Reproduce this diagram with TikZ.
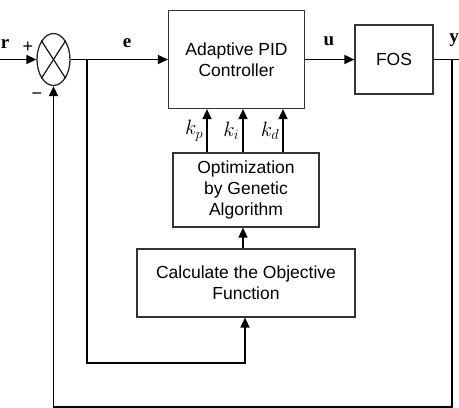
\documentclass[tikz,border=0pt]{standalone}
\usepackage{amsmath}
\usepackage{fontspec}
\setmainfont{Liberation Sans}
\newfontfamily\sigfont{Liberation Serif}
\usetikzlibrary{arrows.meta,positioning,shapes.geometric}

\begin{document}
\begin{tikzpicture}[
  x=1pt,
  y=-1pt,
  block/.style={draw=black!80, line width=1.2pt, align=center, inner sep=2pt,
    font=\fontsize{17.5}{21}\selectfont},
  sumnode/.style={ellipse, draw=black!85, line width=1.3pt, minimum width=33pt, minimum height=52pt, inner sep=0pt},
  wire/.style={line width=1.5pt},
  sig/.style={wire, -{Triangle[length=10pt,width=9pt]}},
  siglab/.style={font=\sigfont\bfseries\fontsize{19}{19}\selectfont},
  gain/.style={font=\fontsize{20}{20}\selectfont, left, inner sep=3pt}
]
\useasboundingbox (0,0) rectangle (459,408);

% blocks
\node[sumnode] (sum) at (53.5,59.5) {};
\draw[line width=1.1pt] (sum.north west) -- (sum.south east);
\draw[line width=1.1pt] (sum.north east) -- (sum.south west);
\node[block, minimum width=136pt, minimum height=98pt] (pid) at (236.5,59.5) {Adaptive PID\\Controller};
\node[block, minimum width=78pt, minimum height=69pt] (fos) at (394,59.5) {FOS};
\node[block, minimum width=146pt, minimum height=74pt] (opt) at (246,190) {Optimization\\by Genetic\\Algorithm};
\node[block, minimum width=218pt, minimum height=68pt] (objfn) at (246,283) {Calculate the Objective\\Function};

% free ends and branch points
\coordinate (rin) at (0,59.5);
\coordinate (ebr) at (87,59.5);
\coordinate (ebot) at (87,363);
\coordinate (yout) at (459,59.5);
\coordinate (ybr) at (452,59.5);
\coordinate (ybot) at (452,407);

% signal labels
\node[siglab] (rlab) at (5,44) {r};
\node[font=\fontsize{18}{18}\selectfont] (plus) at (28,47) {+};
\node[font=\fontsize{18}{18}\selectfont] (minus) at (37,96) {\textminus};
\node[siglab] (elab) at (127,43) {e};
\node[siglab] (ulab) at (329,41) {u};
\node[siglab] (ylab) at (454,40) {y};

% main loop
\draw[sig] (rin) -- (sum.west);
\draw[sig] (sum.east) -- (pid.west);
\draw[sig] (pid.east) -- (fos.west);
\draw[wire] (fos.east) -- (yout);
\draw[sig] (ybr) -- (ybot) -| (sum.south);
\draw[sig] (ebr) -- (ebot) -| ([xshift=-1pt]objfn.south);

% tuning path
\draw[sig] ([xshift=-3pt]objfn.north) -- ([xshift=-3pt]opt.south);
\foreach \dx/\kk in {-39/k_p, -3/k_i, 37/k_d}
  \draw[sig] ([xshift=\dx pt]opt.north) -- ([xshift=\dx pt]opt.north |- pid.south)
    node[gain, pos=0.5] {$\kk$};
\end{tikzpicture}
\end{document}
